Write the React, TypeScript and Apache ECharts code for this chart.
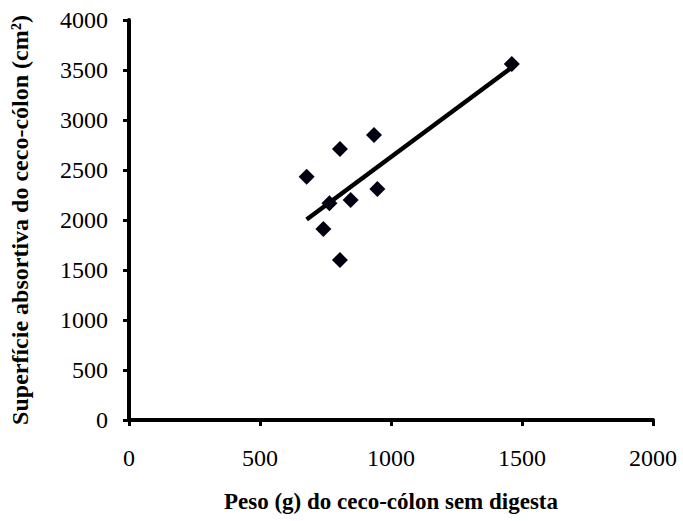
import React, { useEffect, useRef } from "react";
import * as echarts from "echarts";

const xValues = [1461, 935, 805, 678, 765, 846, 948, 742, 805];
const yValues = [3560, 2850, 2710, 2433, 2167, 2200, 2310, 1910, 1600];
const trendX = [678, 1461];
const trendY = [2005, 3525];
const xTitle = "Peso (g) do ceco-cólon sem digesta";
const yTitle = "Superfície absortiva do ceco-cólon (cm²)";

export default function App() {
  const ref = useRef<HTMLDivElement>(null);
  useEffect(() => {
    document.body.style.margin = "0";
    const chart = echarts.init(ref.current!, null, { renderer: "svg" });
    const font = "'Liberation Serif', 'Times New Roman', serif";
    chart.setOption({
      animation: false,
      backgroundColor: "#ffffff",
      grid: { left: 129, right: 30, top: 20, bottom: 101, containLabel: false },
      xAxis: {
        type: "value",
        min: 0,
        max: 2000,
        interval: 500,
        splitLine: { show: false },
        axisLine: { show: true, lineStyle: { color: "#000", width: 4 } },
        axisTick: { show: true, length: 6, lineStyle: { color: "#000", width: 3 } },
        axisLabel: {
          color: "#000",
          fontFamily: font,
          fontSize: 24,
          margin: 26,
          formatter: (v: number) => String(v),
        },
        name: xTitle,
        nameLocation: "middle",
        nameGap: 70,
        nameTextStyle: { color: "#000", fontFamily: font, fontSize: 23, fontWeight: "bold" },
      },
      yAxis: {
        type: "value",
        min: 0,
        max: 4000,
        interval: 500,
        splitLine: { show: false },
        axisLine: { show: true, lineStyle: { color: "#000", width: 4 } },
        axisTick: { show: true, length: 6, lineStyle: { color: "#000", width: 3 } },
        axisLabel: {
          color: "#000",
          fontFamily: font,
          fontSize: 24,
          margin: 21,
          formatter: (v: number) => String(v),
        },
        name: yTitle,
        nameLocation: "middle",
        nameGap: 97,
        nameTextStyle: { color: "#000", fontFamily: font, fontSize: 24, fontWeight: "bold" },
      },
      series: [
        {
          type: "line",
          data: trendX.map((x, i) => [x, trendY[i]]),
          showSymbol: false,
          symbol: "none",
          lineStyle: { color: "#000", width: 4.5 },
          z: 1,
        },
        {
          type: "scatter",
          data: xValues.map((x, i) => [x, yValues[i]]),
          symbol: "diamond",
          symbolSize: 16,
          itemStyle: { color: "#000010", opacity: 1 },
          z: 2,
        },
      ],
    });
    return () => chart.dispose();
  }, []);
  return (
    <div
      ref={ref}
      style={{ position: "fixed", left: 0, top: 0, width: 683, height: 521, background: "#fff" }}
    />
  );
}
